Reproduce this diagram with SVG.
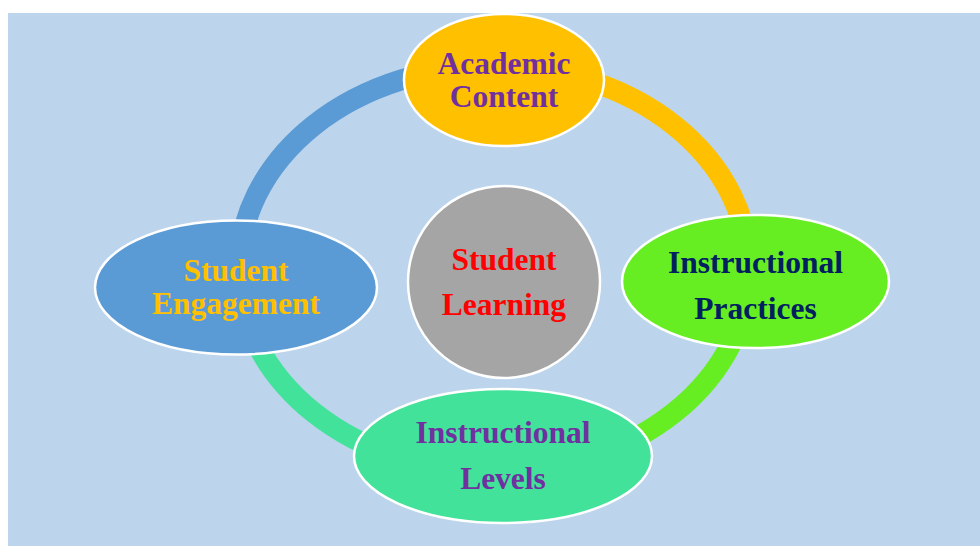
<svg xmlns="http://www.w3.org/2000/svg" width="980" height="546" viewBox="0 0 980 546">
  <style>
    .ring { fill: none; stroke-width: 21; stroke-linecap: butt; }
    .node { stroke: #ffffff; stroke-width: 2.5; }
    .label { font-family: "Liberation Serif", "Times New Roman", serif; font-weight: bold; font-size: 31.5px; text-anchor: middle; }
  </style>
  <rect x="0" y="0" width="980" height="546" fill="#ffffff"/>
  <rect x="8" y="13" width="972" height="533" fill="#BDD5EC"/>

  <!-- ring segments linking the outer nodes -->
  <g id="connectors">
    <path class="ring" stroke="#5B9BD5" d="M 239 269 A 255 203 0 0 1 494 66"/>
    <path class="ring" stroke="#FFC000" d="M 494 66 A 255 203 0 0 1 749 269"/>
    <path class="ring" stroke="#66EE22" d="M 749 269 A 255 203 0 0 1 494 472"/>
    <path class="ring" stroke="#42E29A" d="M 494 472 A 255 203 0 0 1 239 269"/>
  </g>

  <g id="academic-content">
    <ellipse class="node" cx="504" cy="80" rx="100" ry="66" fill="#FFC000"/>
    <text class="label" x="504" y="74" fill="#7030A0">Academic</text>
    <text class="label" x="504" y="107" fill="#7030A0">Content</text>
  </g>

  <g id="instructional-practices">
    <ellipse class="node" cx="755.5" cy="281.5" rx="133.5" ry="66.5" fill="#66EE22"/>
    <text class="label" x="755.5" y="273" fill="#002060">Instructional</text>
    <text class="label" x="755.5" y="319" fill="#002060">Practices</text>
  </g>

  <g id="instructional-levels">
    <ellipse class="node" cx="503" cy="456" rx="149" ry="67" fill="#42E29A"/>
    <text class="label" x="503" y="443" fill="#7030A0">Instructional</text>
    <text class="label" x="503" y="489" fill="#7030A0">Levels</text>
  </g>

  <g id="student-engagement">
    <ellipse class="node" cx="236" cy="287.5" rx="141" ry="67" fill="#5B9BD5"/>
    <text class="label" x="236" y="281" fill="#FFC000">Student</text>
    <text class="label" x="236" y="314" fill="#FFC000">Engagement</text>
  </g>

  <g id="student-learning">
    <circle class="node" cx="504" cy="282" r="96" fill="#A5A5A5"/>
    <text class="label" x="504" y="270" fill="#FF0000">Student</text>
    <text class="label" x="504" y="315" fill="#FF0000">Learning</text>
  </g>
</svg>
